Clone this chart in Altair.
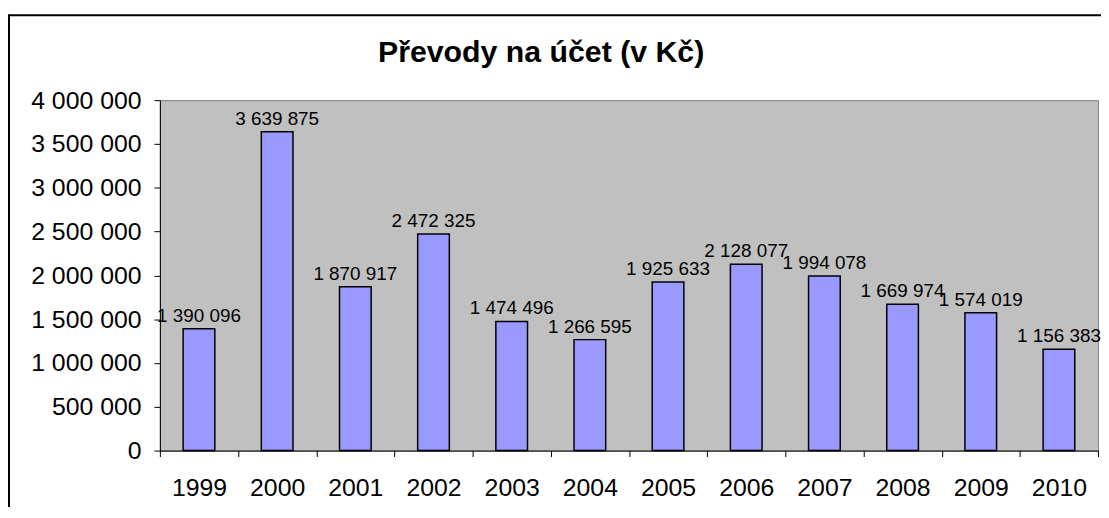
import altair as alt
import pandas as pd

years = ["1999", "2000", "2001", "2002", "2003", "2004", "2005", "2006", "2007", "2008", "2009", "2010"]
values = [1390096, 3639875, 1870917, 2472325, 1474496, 1266595, 1925633, 2128077, 1994078, 1669974, 1574019, 1156383]
labels = [f"{v:,}".replace(",", " ") for v in values]
y_ticks = [0, 500000, 1000000, 1500000, 2000000, 2500000, 3000000, 3500000, 4000000]
title_text = "Převody na účet (v Kč)"

FONT = "Liberation Sans"

df = pd.DataFrame({"year": years, "value": values, "label": labels})

x_enc = alt.X(
    "year:N", sort=years,
    scale=alt.Scale(paddingInner=0, paddingOuter=0),
    axis=alt.Axis(title=None, tickBand="extent", labelAngle=0, labelFont=FONT,
                  labelFontSize=25, labelColor="black", labelPadding=19,
                  tickSize=6, tickColor="black", domainColor="black", grid=False),
)
y_enc = alt.Y(
    "value:Q",
    scale=alt.Scale(domain=[0, 4000000], nice=False),
    axis=alt.Axis(title=None, values=y_ticks,
                  labelExpr="replace(format(datum.value, ','), regexp(',', 'g'), ' ')",
                  labelFont=FONT, labelFontSize=25, labelColor="black", labelPadding=13,
                  tickSize=6, tickColor="black", domainColor="black", grid=False),
)

bars = alt.Chart(df).mark_bar(
    width=alt.RelativeBandSize(0.405), color="#9999FF", stroke="black", strokeWidth=1.5
).encode(x=x_enc, y=y_enc)

texts = alt.Chart(df).mark_text(
    baseline="alphabetic", dy=-7, font=FONT, fontSize=19, color="black"
).encode(x=alt.X("year:N", sort=years), y="value:Q", text="label:N")

title = alt.Chart(alt.Data(values=[{"t": title_text}])).mark_text(
    font=FONT, fontSize=30.5, fontWeight="bold", color="black", align="center", baseline="alphabetic"
).encode(text="t:N", x=alt.value(384), y=alt.value(-38))

border_left = alt.Chart(alt.Data(values=[{"a": 1}])).mark_rule(
    color="black", strokeWidth=2
).encode(x=alt.value(-152), y=alt.value(-86), y2=alt.value(500))

border_top = alt.Chart(alt.Data(values=[{"a": 1}])).mark_rule(
    color="black", strokeWidth=2
).encode(y=alt.value(-85.5), x=alt.value(-153), x2=alt.value(1000))

chart = alt.layer(bars, texts, title, border_left, border_top).properties(
    width=945, height=353,
    autosize=alt.AutoSizeParams(type="none"),
    padding={"left": 153, "top": 91, "right": 3, "bottom": 55},
).configure_view(
    fill="#C0C0C0", stroke="#808080", strokeWidth=1
)

chart.save("out.html", embed_options={"renderer": "svg", "actions": False})
